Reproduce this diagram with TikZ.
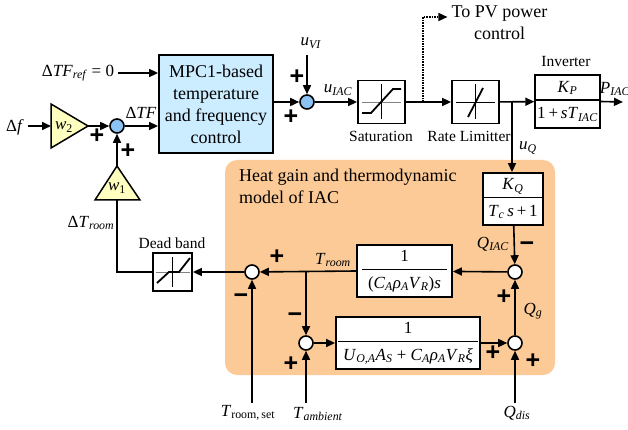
\documentclass[tikz,border=0pt]{standalone}
\usepackage{fontspec}
\setmainfont{Liberation Serif}
\setsansfont{Liberation Sans}
\usetikzlibrary{arrows.meta}
\definecolor{mpcblue}{RGB}{204,236,255}
\definecolor{sumblue}{RGB}{140,195,245}
\definecolor{gainyellow}{RGB}{255,255,192}
\definecolor{heatorange}{RGB}{252,202,150}
\definecolor{axisgray}{RGB}{130,130,130}

% italic symbol with italic subscript
\newcommand{\iv}[2]{\textit{#1}\textsubscript{\textit{#2}}}
% transfer-function fraction used inside the blocks
\newcommand{\blkfrac}[3][3pt]{{\setlength{\arrayrulewidth}{1.2pt}\setlength{\tabcolsep}{#1}\begin{tabular}{c}#2\\[1pt]\hline\rule{0pt}{18pt}#3\end{tabular}}}

\begin{document}
\begin{tikzpicture}[x=1pt,y=-1pt,
  wire/.style={line width=1.6pt},
  arr/.style={wire,-{Triangle[length=9pt,width=8pt]}},
  blk/.style={draw,line width=1.8pt,fill=white,inner sep=0pt},
  sumb/.style={circle,draw,line width=1.6pt,fill=sumblue,minimum size=14pt,inner sep=0pt},
  sumw/.style={sumb,fill=white},
  lbl/.style={font=\fontsize{15.5}{18}\selectfont,inner sep=0pt},
  sig/.style={font=\fontsize{17}{20}\selectfont,inner sep=0pt},
  big/.style={font=\fontsize{18}{22}\selectfont,inner sep=0pt},
  ffont/.style={font=\fontsize{17}{20}\selectfont},
  sgn/.style={font=\sffamily\bfseries\fontsize{25}{25}\selectfont,inner sep=0pt},
  axis/.style={line width=1pt},
  curve/.style={line width=1.8pt},
]
\useasboundingbox (0,0) rectangle (628,430);

% heat gain region
\fill[heatorange,rounded corners=12pt] (225,160) rectangle (555,375);
\node[big,anchor=north west,align=left] (heattxt) at (239,169) {Heat gain and thermodynamic\\model of IAC};

% controller
\node[blk,fill=mpcblue,minimum width=114pt,minimum height=98pt,big,align=center] (mpc) at (216,104)
  {MPC1-based\\temperature\\and frequency\\control};

% gain triangles
\draw[line width=1.5pt,fill=gainyellow] (51,104) -- (88,126) -- (51,148) -- cycle;
\coordinate (w2in) at (51,126);
\coordinate (w2out) at (88,126);
\node[sig] (w2) at (64,127) {\textit{w}\textsubscript{2}};
\draw[line width=1.5pt,fill=gainyellow] (117,166) -- (140,200) -- (95,200) -- cycle;
\coordinate (w1top) at (117,166);
\coordinate (w1bot) at (117,200);
\node[sig] (w1) at (117,188) {\textit{w}\textsubscript{1}};

% summing junctions
\node[sumb] (s1) at (117,126) {};
\node[sumb] (s2) at (307,102) {};
\node[sumw] (s3) at (252,272) {};
\node[sumw] (s4) at (306,343) {};
\node[sumw] (s5) at (515,343) {};
\node[sumw] (s6) at (515,272) {};

% blocks
\node[blk,minimum width=47pt,minimum height=43pt] (sat) at (381.5,102) {};
\node[blk,minimum width=47pt,minimum height=43pt] (rate) at (475.5,102) {};
\node[blk,minimum width=63pt,minimum height=53pt,ffont] (inv) at (567.5,101.5)
  {\blkfrac[2pt]{\iv{K}{P}}{1\,+\,\textit{s}\iv{T}{IAC}}};
\node[blk,minimum width=60pt,minimum height=52pt,ffont] (kq) at (513,199)
  {\blkfrac[4pt]{\iv{K}{Q}}{\iv{T}{c}\,\textit{s}\,+\,1}};
\node[blk,minimum width=95pt,minimum height=52pt,ffont] (g1) at (404.5,271)
  {\blkfrac[6pt]{1}{(\iv{C}{A}\iv{ρ}{A}\iv{V}{R})\textit{s}}};
\node[blk,minimum width=144pt,minimum height=52pt,ffont] (g2) at (408,343)
  {\blkfrac[5pt]{1}{\iv{U}{O,A}\iv{A}{S} + \iv{C}{A}\iv{ρ}{A}\iv{V}{R}\textit{ξ}}};
\node[blk,minimum width=39pt,minimum height=38pt] (db) at (172.5,272) {};

% saturation characteristic
\begin{scope}[shift={(sat.center)}]
  \draw[axis,axisgray] (-19.5,1) -- (19.5,1);
  \draw[axis] (0,-18) -- (0,17);
  \draw[curve] (-19.5,11) -- (-10.5,11) -- (11.5,-13) -- (19.5,-13);
\end{scope}
% rate limiter characteristic
\begin{scope}[shift={(rate.center)}]
  \draw[axis] (-19.5,1) -- (19.5,1);
  \draw[axis] (0,-18) -- (0,17);
  \draw[curve] (-7.5,15) -- (7.5,-14);
\end{scope}
% dead band characteristic
\begin{scope}[shift={(db.center)}]
  \draw[axis,axisgray] (-17,0) -- (17,0);
  \draw[axis] (0,-15) -- (0,15);
  \draw[curve] (-15.5,11) -- (-3.5,0) -- (6.5,0) -- (17.5,-14);
\end{scope}

% block captions
\node[lbl] (satlbl) at (381,136) {Saturation};
\node[lbl] (ratelbl) at (469,136) {Rate Limitter};
\node[lbl] (invlbl) at (566,62) {Inverter};
\node[lbl] (dblbl) at (172,243) {Dead band};
\node[big,align=center] (pv) at (499.5,23) {To PV power\\control};

% signal labels
\node[sig] (df) at (15,127) {Δ\textit{f}};
\node[sig] (tfref) at (78,73) {Δ\iv{TF}{ref} = 0};
\node[sig] (dtf) at (141,113) {Δ\textit{TF}};
\node[sig] (dtroom) at (91,223) {Δ\iv{T}{room}};
\node[sig] (uvi) at (311,43) {\iv{u}{VI}};
\node[sig] (uiac) at (338,90) {\iv{u}{IAC}};
\node[sig] (piac) at (615,89) {\iv{P}{IAC}};
\node[sig] (uq) at (528,148) {\iv{u}{Q}};
\node[sig] (qiac) at (493,244) {\iv{Q}{IAC}};
\node[sig] (qg) at (533,311) {\iv{Q}{g}};
\node[sig] (troom) at (333,260) {\iv{T}{room}};
\node[sig] (trset) at (248,413) {\textit{T}\textsubscript{room,\,set}};
\node[sig] (tamb) at (318,414) {\iv{T}{ambient}};
\node[sig] (qdis) at (517,413) {\iv{Q}{dis}};

% signs at the junctions
\node[sgn] (p1) at (97,136) {+};
\node[sgn] (p2) at (128,151) {+};
\node[sgn] (p3) at (297,77) {+};
\node[sgn] (p4) at (291,117) {+};
\node[sgn] (p5) at (277,257) {+};
\node[sgn] (m1) at (241,299) {−};
\node[sgn] (m2) at (295,318) {−};
\node[sgn] (p6) at (291,364) {+};
\node[sgn] (m3) at (527,247) {−};
\node[sgn] (p7) at (504,297) {+};
\node[sgn] (p8) at (493,353) {+};
\node[sgn] (p9) at (533,361) {+};

% free ends of connectors
\coordinate (dfout) at (28,126);
\coordinate (refout) at (118,73);
\coordinate (uvitop) at (307,55);
\coordinate (tap) at (423,102);
\coordinate (pvc) at (423,17);
\coordinate (uqtap) at (512,102);
\coordinate (pout) at (623,102);
\coordinate (tbr) at (306,272);
\coordinate (trin) at (252,403);
\coordinate (tamin) at (306,403);
\coordinate (qdin) at (515,403);

% upper signal path
\draw[arr] (dfout) -- (w2in);
\draw[arr] (refout) -- (mpc.west |- refout);
\draw[arr] (w2out) -- (s1);
\draw[arr] (s1) -- (mpc.west |- s1);
\draw[arr] (w1top) -- (s1);
\draw[wire] (db.west) -| (w1bot);
\draw[arr] (mpc.east |- s2) -- (s2);
\draw[arr] (uvitop) -- (s2);
\draw[arr] (s2) -- (sat);
\draw[arr] (sat) -- (rate);
\draw[wire,densely dotted,-{Triangle[length=9pt,width=8pt]}] (tap) -- (pvc) -- ([xshift=-4pt]pv.west |- pvc);
\draw[arr] (rate) -- (inv);
\draw[arr] (uqtap) -- (uqtap |- kq.north);
\draw[arr] (inv.east) -- (pout);

% thermodynamic loop
\draw[arr] (kq) -- (s6);
\draw[arr] (s6) -- (g1);
\draw[arr] (g1.west) -- (s3);
\draw[arr] (tbr) -- (s4);
\draw[arr] (s3) -- (db);
\draw[arr] (s4) -- (g2);
\draw[arr] (g2) -- (s5);
\draw[arr] (s5) -- (s6);
\draw[arr] (trin) -- (s3);
\draw[arr] (tamin) -- (s4);
\draw[arr] (qdin) -- (s5);
\end{tikzpicture}
\end{document}
